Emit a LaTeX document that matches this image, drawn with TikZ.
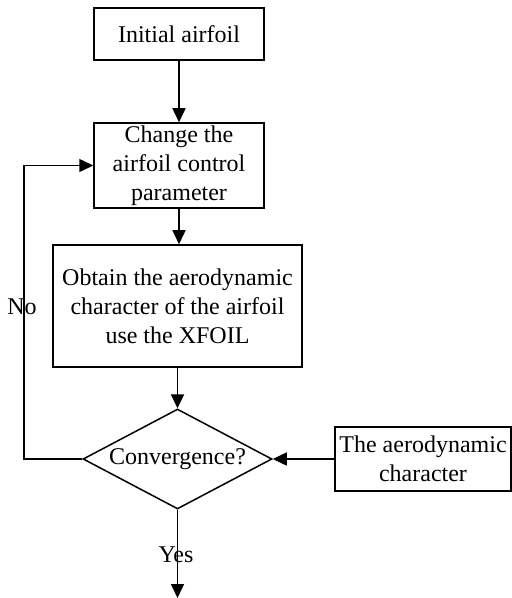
\documentclass[tikz,border=0pt]{standalone}
\usepackage{fontspec}
\setmainfont{Liberation Serif}
\usetikzlibrary{shapes.geometric,arrows.meta}

\begin{document}
\begin{tikzpicture}[x=0.5pt, y=-0.5pt,
        line width=0.75pt,
        >={Triangle[width=6.5pt,length=7pt]},
        every node/.style = {font=\fontsize{12}{14.5}\selectfont, align=center},
        stepbox/.style = {shape=rectangle, draw, inner sep=0pt},
        decision/.style = {shape=diamond, draw, inner sep=0pt, aspect=1.89,
            minimum width=94.5pt, minimum height=50pt}]
        \useasboundingbox (0,0) rectangle (511,598);

        \node[stepbox, minimum width=85pt, minimum height=26pt] (init) at (179,34) {Initial airfoil};
        \node[stepbox, minimum width=85pt, minimum height=42.5pt] (change) at (179,165.5)
            {Change the\\airfoil control\\parameter};
        \node[stepbox, minimum width=124.5pt, minimum height=61pt] (xfoil) at (177.5,306)
            {Obtain the aerodynamic\\character of the airfoil\\use the XFOIL};
        \node[decision] (conv) at (177.5,459) {Convergence?};
        \node[stepbox, minimum width=88pt, minimum height=32pt] (target) at (423,459)
            {The aerodynamic\\character};
        \coordinate (loop) at (24,459);
        \coordinate (done) at (177.5,598);

        \draw[->] (init.south) -- (init.south |- change.north);
        \draw[->] (change.south) -- (change.south |- xfoil.north);
        \draw[-{Triangle[width=6.6pt,length=7pt,fill=black]}] (xfoil.south) -- (conv.north);
        \draw[->] (target.west) -- (conv.east);
        \draw[->] (conv.west) -- (loop) |- (change.west);
        \draw[->] (conv.south) -- (done);

        \node (no) at (22,307) {No};
        \node (yes) at (176,555) {Yes};
    \end{tikzpicture}
\end{document}
